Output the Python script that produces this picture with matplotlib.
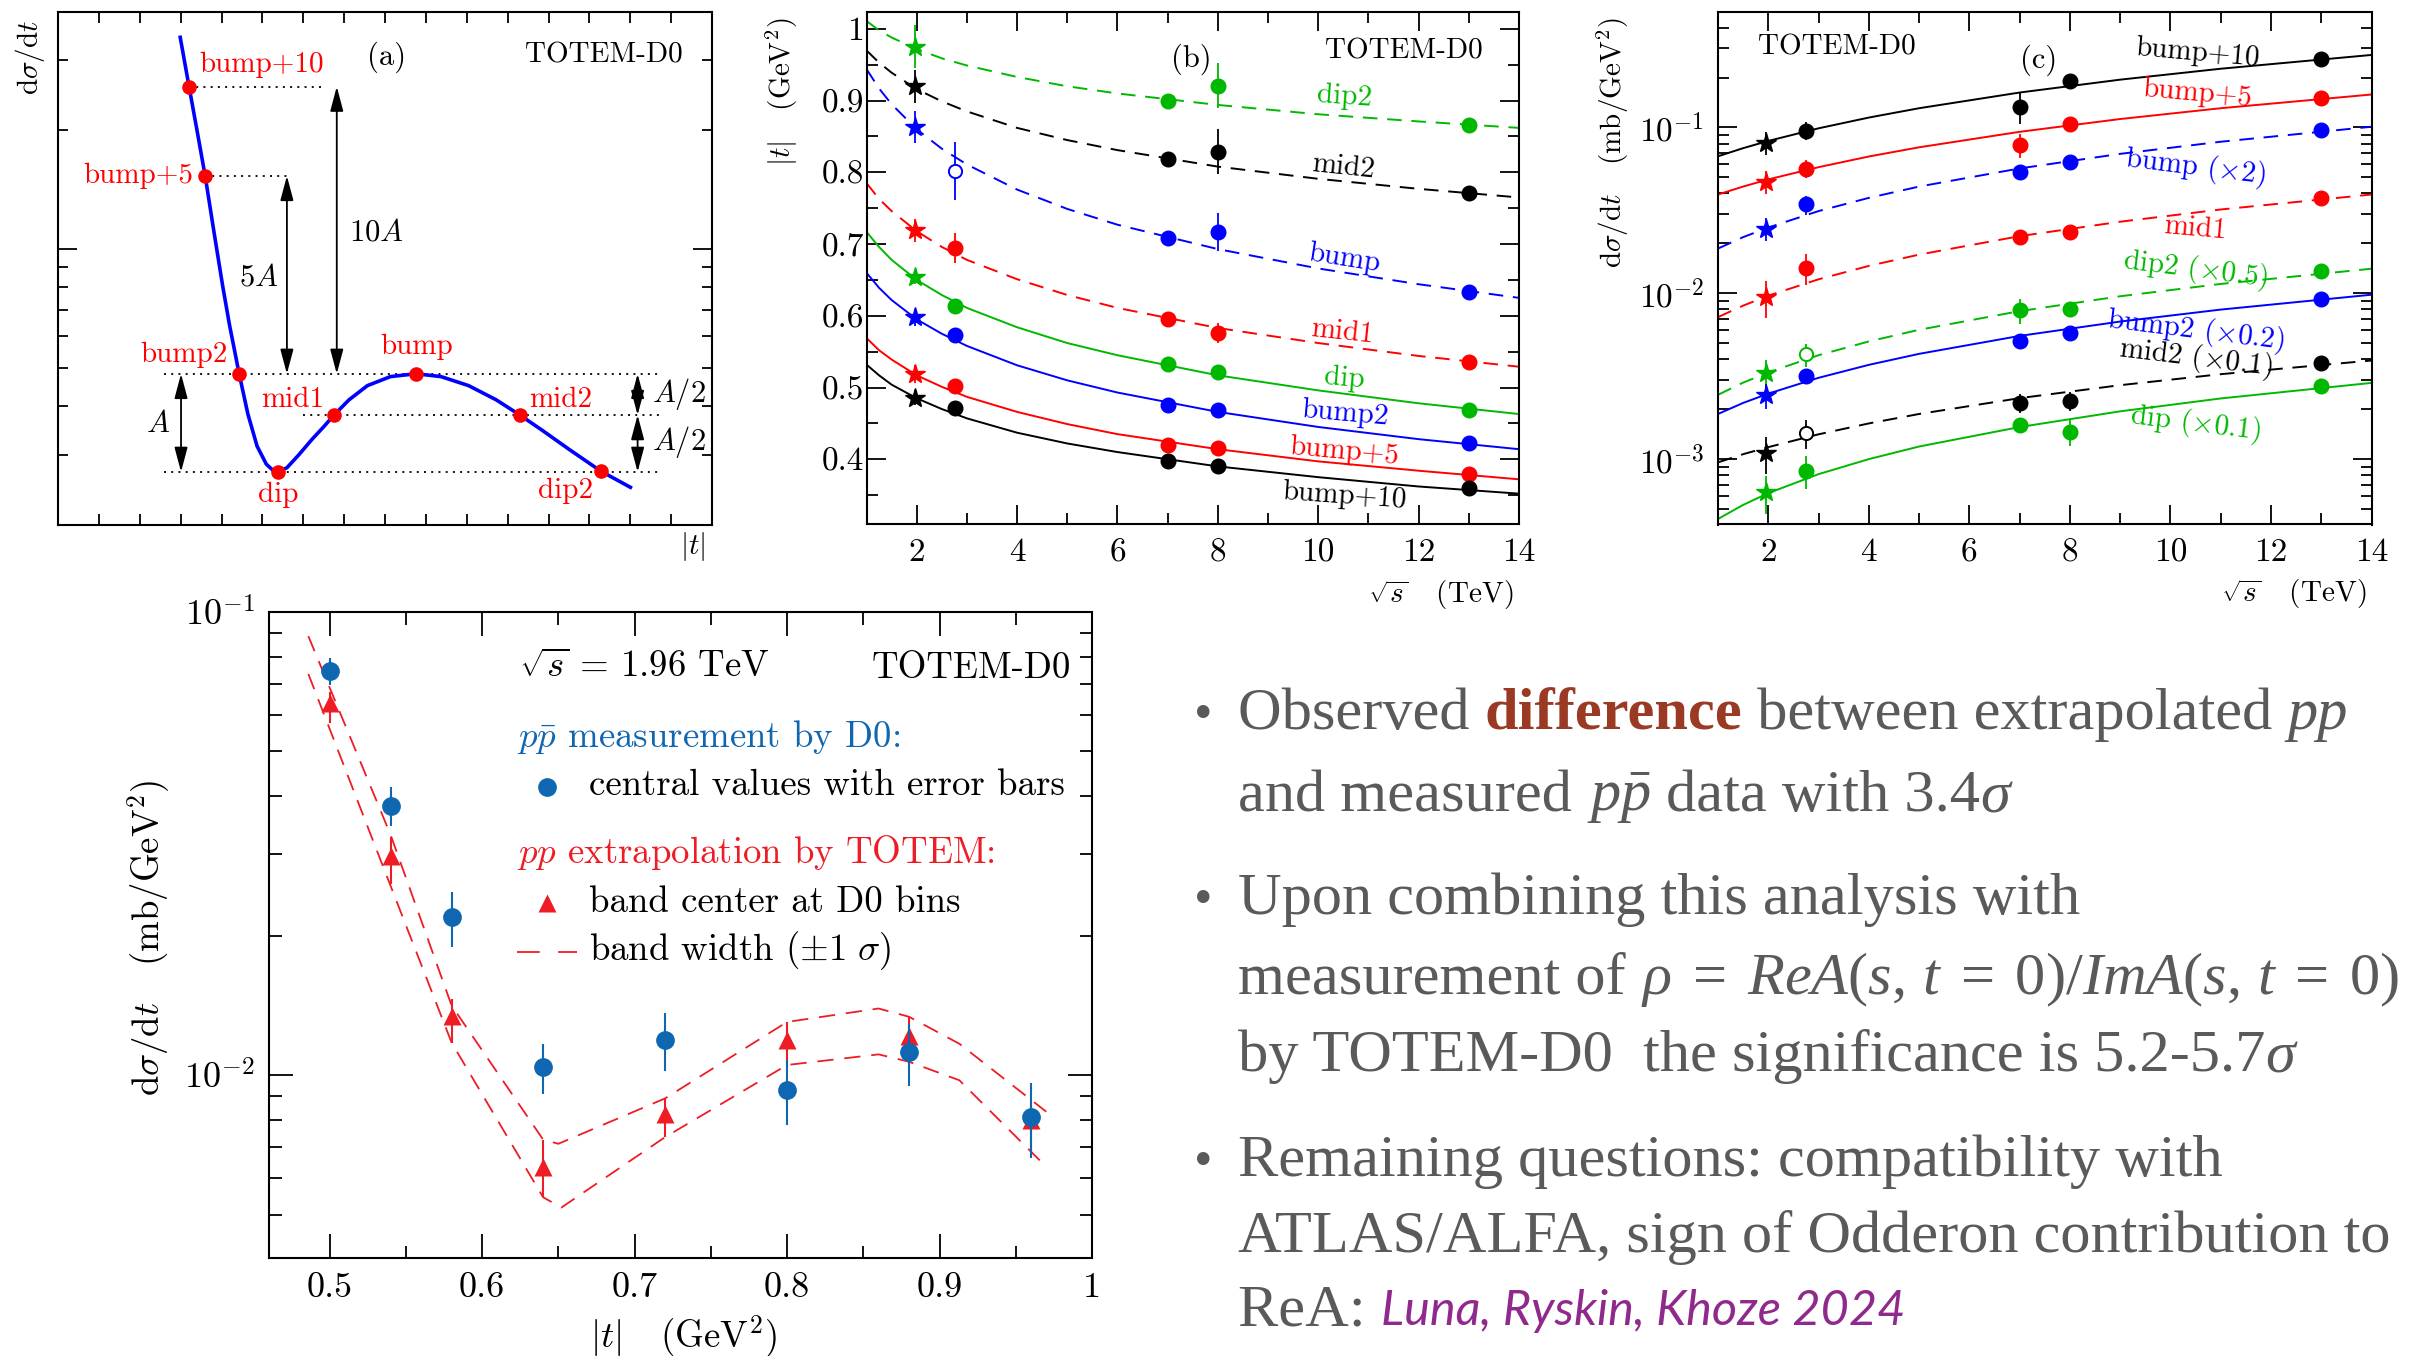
import numpy as np
import matplotlib
matplotlib.use("Agg")
import matplotlib.pyplot as plt
from matplotlib.ticker import FixedLocator, FuncFormatter, NullFormatter, MultipleLocator

W, H = 2410, 1356
plt.rcParams.update({
    "font.family": "cmr10",
    "mathtext.fontset": "cm",
    "mathtext.rm": "Liberation Serif",
    "mathtext.it": "Liberation Serif:italic",
    "mathtext.bf": "Liberation Serif:bold",
    "axes.unicode_minus": False,
    "axes.formatter.use_mathtext": True,
})

GREEN, RED, BLUE, BLACK = "#00b800", "#ff0000", "#0000ff", "#000000"

# ---------------- panel (a): schematic of the characteristic points ----------------
a_curve_t = [2.99, 3.206, 3.408, 3.600, 3.802, 4.027, 4.196, 4.432, 4.646, 4.871, 5.096,
             5.264, 5.388, 5.602, 5.883, 6.220, 6.502, 6.749, 7.120, 7.570, 8.133, 8.763,
             9.370, 10.045, 10.720, 11.305, 11.845, 12.520, 13.285, 14.004]
a_curve_y = [3.434, 2.576, 1.977, 1.530, 1.126, 0.807, 0.641, 0.482, 0.381, 0.316, 0.2846,
             0.2742, 0.2719, 0.2788, 0.2998, 0.3294, 0.3541, 0.3787, 0.4142, 0.4500, 0.4743,
             0.4823, 0.4743, 0.4500, 0.4142, 0.3787, 0.3468, 0.3094, 0.2730, 0.2486]
a_point_names = ["bump+10", "bump+5", "bump2", "dip", "mid1", "bump", "mid2", "dip2"]
a_point_t = [3.206, 3.600, 4.432, 5.388, 6.749, 8.763, 11.305, 13.285]
a_point_y = [2.576, 1.530, 0.482, 0.272, 0.379, 0.482, 0.379, 0.273]

# ---------------- panel (b) and (c): energy dependence ----------------
sqrt_s_pts = [1.96, 2.76, 7.0, 8.0, 13.0]
fit_s_b = [1, 1.25, 1.5, 2, 2.5, 3, 4, 5, 6, 8, 10, 12, 14]
fit_s_c = [1, 1.5, 2, 3, 4, 5, 7, 9, 11, 14]
nan = np.nan

# |t| of the characteristic points (GeV^2)
t_dip2 = [0.975, nan, 0.900, 0.921, 0.866]
t_mid2 = [0.920, nan, 0.818, 0.829, 0.771]
t_bump = [0.863, 0.802, 0.709, 0.717, 0.633]
t_mid1 = [0.719, 0.695, 0.596, 0.576, 0.536]
t_dip = [0.654, 0.614, 0.533, 0.521, 0.469]
t_bump2 = [0.598, 0.573, 0.475, 0.468, 0.423]
t_bump5 = [0.519, 0.502, 0.420, 0.415, 0.380]
t_bump10 = [0.486, 0.472, 0.397, 0.390, 0.360]
te_dip2 = [0.030, 0, 0.008, 0.031, 0.008]
te_mid2 = [0.023, 0, 0.008, 0.031, 0.006]
te_bump = [0.022, 0.041, 0.008, 0.026, 0.008]
te_mid1 = [0.016, 0.021, 0.008, 0.014, 0.008]
te_dip = [0.010, 0.010, 0.006, 0.006, 0.006]
te_bump2 = [0.012, 0.010, 0.006, 0.006, 0.006]
te_bump5 = [0.013, 0.010, 0.006, 0.006, 0.006]
te_bump10 = [0.010, 0.008, 0.006, 0.006, 0.006]

tfit_dip2 = [1.011, 0.998, 0.988, 0.972, 0.959, 0.949, 0.933, 0.920, 0.910, 0.894, 0.881, 0.871, 0.862]
tfit_mid2 = [0.970, 0.953, 0.939, 0.916, 0.899, 0.885, 0.862, 0.845, 0.831, 0.808, 0.791, 0.777, 0.765]
tfit_bump = [0.944, 0.917, 0.895, 0.860, 0.833, 0.811, 0.776, 0.749, 0.727, 0.693, 0.666, 0.644, 0.625]
tfit_mid1 = [0.785, 0.763, 0.746, 0.718, 0.696, 0.678, 0.651, 0.629, 0.611, 0.583, 0.562, 0.544, 0.529]
tfit_dip = [0.717, 0.696, 0.678, 0.650, 0.629, 0.611, 0.584, 0.562, 0.545, 0.517, 0.496, 0.478, 0.463]
tfit_bump2 = [0.660, 0.639, 0.622, 0.595, 0.575, 0.558, 0.531, 0.510, 0.493, 0.466, 0.445, 0.428, 0.414]
tfit_bump5 = [0.569, 0.552, 0.539, 0.517, 0.501, 0.487, 0.466, 0.449, 0.435, 0.414, 0.397, 0.384, 0.372]
tfit_bump10 = [0.532, 0.517, 0.504, 0.485, 0.470, 0.457, 0.437, 0.422, 0.410, 0.390, 0.375, 0.362, 0.352]

# dsigma/dt at the characteristic points (mb/GeV^2), with display scale factors
x_bump10 = [0.0811, 0.0955, 0.1334, 0.1905, 0.2576]
x_bump5 = [0.0470, 0.0565, 0.0783, 0.1049, 0.1497]
x_bump = [0.0245, 0.0343, 0.0535, 0.0621, 0.0964]
x_mid1 = [0.00948, 0.01419, 0.0218, 0.0234, 0.0373]
x_dip2 = [0.00331, 0.00428, 0.00789, 0.00805, 0.01355]
x_bump2 = [0.00242, 0.00316, 0.00512, 0.00577, 0.00927]
x_mid2 = [0.001087, 0.001436, 0.00218, 0.002255, 0.00378]
x_dip = [0.000629, 0.000851, 0.001607, 0.001462, 0.002748]
xe_bump10 = [0.013, 0.012, 0.028, 0.020, 0.014]
xe_bump5 = [0.0075, 0.0068, 0.0125, 0.008, 0.008]
xe_bump = [0.0039, 0.0045, 0.0035, 0.004, 0.005]
xe_mid1 = [0.0024, 0.0030, 0.0013, 0.0014, 0.0020]
xe_dip2 = [0.00066, 0.00069, 0.00134, 0.0008, 0.0007]
xe_bump2 = [0.00041, 0.0003, 0.0003, 0.0003, 0.0004]
xe_mid2 = [0.00028, 0.00028, 0.00029, 0.0003, 0.00015]
xe_dip = [0.00016, 0.00019, 0.00015, 0.00026, 0.0001]

xfit_bump10 = [0.0670, 0.0750, 0.0829, 0.0988, 0.1147, 0.1306, 0.1624, 0.1942, 0.2260, 0.2737]
xfit_bump5 = [0.0394, 0.0440, 0.0486, 0.0576, 0.0668, 0.0759, 0.0941, 0.1124, 0.1306, 0.1580]
xfit_bump = [0.0186, 0.0218, 0.0249, 0.0313, 0.0376, 0.0440, 0.0566, 0.0693, 0.0820, 0.1010]
xfit_mid1 = [0.00718, 0.00842, 0.00966, 0.01214, 0.01462, 0.0171, 0.0221, 0.0270, 0.0320, 0.0394]
xfit_dip2 = [0.00244, 0.00289, 0.00333, 0.00423, 0.00512, 0.00602, 0.00780, 0.00959, 0.01138, 0.01406]
xfit_bump2 = [0.00187, 0.00218, 0.00248, 0.00309, 0.00370, 0.00431, 0.00553, 0.00675, 0.00797, 0.00980]
xfit_mid2 = [0.000955, 0.00107, 0.00118, 0.00141, 0.00164, 0.00187, 0.00233, 0.00279, 0.00325, 0.00393]
xfit_dip = [0.000435, 0.000529, 0.000623, 0.000811, 0.000999, 0.00119, 0.00156, 0.00194, 0.00232, 0.00288]

# ---------------- bottom panel: comparison at 1.96 TeV ----------------
d0_t = [0.50, 0.54, 0.58, 0.64, 0.72, 0.80, 0.88, 0.96]
d0_dsdt = [0.0746, 0.0382, 0.0219, 0.0104, 0.01191, 0.00929, 0.0112, 0.00811]
d0_err = [0.0050, 0.0037, 0.0030, 0.0013, 0.0017, 0.0015, 0.0017, 0.0015]
totem_dsdt = [0.0635, 0.0297, 0.0134, 0.00635, 0.00826, 0.01189, 0.01216, 0.00799]
totem_lo = [0.0575, 0.0259, 0.01175, 0.00546, 0.00736, 0.01043, 0.01069, 0.0068]
totem_hi = [0.0671, 0.0327, 0.01459, 0.00726, 0.00891, 0.01303, 0.01337, 0.0088]
band_up_t = [0.486, 0.54, 0.58, 0.64, 0.65, 0.72, 0.80, 0.86, 0.88, 0.913, 0.97]
band_up = [0.0887, 0.0330, 0.01413, 0.00726, 0.00711, 0.00891, 0.01303, 0.01393, 0.01337, 0.01169, 0.00834]
band_dn_t = [0.486, 0.54, 0.58, 0.64, 0.652, 0.72, 0.80, 0.86, 0.88, 0.913, 0.97]
band_dn = [0.0735, 0.0256, 0.01175, 0.00545, 0.00518, 0.00735, 0.01052, 0.01109, 0.01069, 0.00975, 0.00634]

fig = plt.figure(figsize=(W / 100, H / 100), dpi=100)


def px_axes(l, t, r, b):
    return fig.add_axes([l / W, 1 - b / H, (r - l) / W, (b - t) / H])


def ftext(x, y, s, **kw):
    return fig.text(x / W, 1 - y / H, s, **kw)


def frame(ax, major, minor, labelsize=24, pad=10):
    ax.tick_params(which="both", direction="in", top=True, right=True, width=1.3, colors="k")
    ax.tick_params(which="major", length=major, labelsize=labelsize, pad=pad)
    ax.tick_params(which="minor", length=minor)
    for sp in ax.spines.values():
        sp.set_linewidth(1.5)


plain = FuncFormatter(lambda v, p: "%g" % v)
powten = FuncFormatter(lambda v, p: r"$10^{%d}$" % int(round(np.log10(v))))

# ======== (a) ========
ax = px_axes(58, 12, 712, 525)
ax.set_yscale("log")
ax.set_xlim(0, 16)
ax.set_ylim(10 ** -0.7, 10 ** 0.6)
ax.xaxis.set_major_locator(FixedLocator(list(range(1, 16))))
ax.xaxis.set_major_formatter(NullFormatter())
ax.yaxis.set_major_locator(FixedLocator([1.0]))
ax.yaxis.set_minor_locator(FixedLocator([0.3, 0.4, 0.5, 0.6, 0.7, 0.8, 0.9, 2.0, 3.0]))
ax.yaxis.set_major_formatter(NullFormatter())
ax.yaxis.set_minor_formatter(NullFormatter())
frame(ax, 14, 7)
ax.tick_params(axis="x", which="major", length=8)

dot = dict(color="k", lw=1.3, linestyle=(0, (1.1, 2.9)), zorder=1)
y_b10, y_b5, y_bump, y_mid, y_dip = a_point_y[0], a_point_y[1], a_point_y[5], a_point_y[4], a_point_y[3]
ax.plot([a_point_t[0], 6.56], [y_b10, y_b10], **dot)
ax.plot([a_point_t[1], 5.60], [y_b5, y_b5], **dot)
ax.plot([2.59, 14.71], [y_bump, y_bump], **dot)
ax.plot([6.0, 14.77], [y_mid, y_mid], **dot)
ax.plot([2.59, 14.71], [y_dip, y_dip], **dot)

ax.plot(a_curve_t, a_curve_y, color=BLUE, lw=2.6, zorder=3)
ax.plot(a_point_t, a_point_y, "o", color=RED, ms=10.5, mec="none", zorder=4)

arrow = dict(arrowstyle="<|-|>,head_length=0.75,head_width=0.2", color="k", lw=1.3,
             mutation_scale=20, shrinkA=0, shrinkB=0)
for xa, ya, yb in [(3.01, y_bump, y_dip), (5.60, y_b5, y_bump), (6.82, y_b10, y_bump),
                   (14.18, y_bump, y_mid), (14.18, y_mid, y_dip)]:
    ax.annotate("", xy=(xa, yb), xytext=(xa, ya), arrowprops=arrow, zorder=2)

lab = dict(color=RED, fontsize=21, va="baseline")
ax.text(4.97, 2.80, "bump+10", ha="center", **lab)
ax.text(3.30, 1.47, "bump+5", ha="right", **lab)
ax.text(3.07, 0.516, "bump2", ha="center", **lab)
ax.text(8.77, 0.540, "bump", ha="center", **lab)
ax.text(5.74, 0.397, "mid1", ha="center", **lab)
ax.text(12.29, 0.397, "mid2", ha="center", **lab)
ax.text(5.40, 0.2287, "dip", ha="center", **lab)
ax.text(12.41, 0.2335, "dip2", ha="center", **lab)
ax.text(8.05, 2.92, "(a)", ha="center", va="baseline", fontsize=22)
ax.text(15.28, 2.97, "TOTEM-D0", ha="right", va="baseline", fontsize=21)
ax.text(7.12, 1.047, r"$10A$", ha="left", va="baseline", fontsize=22)
ax.text(4.42, 0.807, r"$5A$", ha="left", va="baseline", fontsize=22)
ax.text(2.45, 0.343, r"$A$", ha="center", va="baseline", fontsize=22)
ax.text(14.54, 0.410, r"$A/2$", ha="left", va="baseline", fontsize=22)
ax.text(14.54, 0.309, r"$A/2$", ha="left", va="baseline", fontsize=22)
ftext(30, 57, r"$\mathrm{d}\sigma/\mathrm{d}t$", rotation=90, ha="center", va="center", fontsize=21)
ftext(693, 546, r"$|t|$", ha="center", va="center", fontsize=21)


def draw_points(ax, vals, errs, color, open_idx=()):
    for i, (s, v, e) in enumerate(zip(sqrt_s_pts, vals, errs)):
        if np.isnan(v):
            continue
        if i == 0:
            kw = dict(marker="*", ms=15, mfc=color, mec=color)
        elif i in open_idx:
            kw = dict(marker="o", ms=9.5, mfc="white", mec=color, mew=1.4)
        else:
            kw = dict(marker="o", ms=10.5, mfc=color, mec=color)
        ax.errorbar([s], [v], yerr=[e], color=color, elinewidth=1.3, capsize=0,
                    linestyle="none", zorder=4, **kw)


DASH = (7.5, 5)

# ======== (b) ========
ax = px_axes(866.5, 11.7, 1519, 524.5)
ax.set_xlim(1, 14)
ax.set_ylim(0.309, 1.024)
ax.xaxis.set_major_locator(MultipleLocator(2))
ax.xaxis.set_minor_locator(MultipleLocator(1))
ax.yaxis.set_major_locator(MultipleLocator(0.1))
ax.yaxis.set_minor_locator(MultipleLocator(0.05))
ax.xaxis.set_major_formatter(plain)
ax.yaxis.set_major_formatter(plain)
frame(ax, 14, 8)
ax.tick_params(axis="y", which="major", pad=2)

b_series = [
    ("dip2", t_dip2, te_dip2, tfit_dip2, GREEN, True, (), (10.53, 0.905), -4),
    ("mid2", t_mid2, te_mid2, tfit_mid2, BLACK, True, (), (10.50, 0.807), -6),
    ("bump", t_bump, te_bump, tfit_bump, BLUE, True, (1,), (10.51, 0.680), -9),
    ("mid1", t_mid1, te_mid1, tfit_mid1, RED, True, (), (10.48, 0.577), -6),
    ("dip", t_dip, te_dip, tfit_dip, GREEN, False, (), (10.51, 0.512), -5),
    ("bump2", t_bump2, te_bump2, tfit_bump2, BLUE, False, (), (10.53, 0.463), -5),
    ("bump+5", t_bump5, te_bump5, tfit_bump5, RED, False, (), (10.51, 0.411), -5),
    ("bump+10", t_bump10, te_bump10, tfit_bump10, BLACK, False, (), (10.53, 0.349), -4),
]
for name, vals, errs, fit, col, dashed, opn, pos, rot in b_series:
    line, = ax.plot(fit_s_b, fit, color=col, lw=1.4, zorder=2)
    if dashed:
        line.set_dashes(DASH)
    draw_points(ax, vals, errs, col, opn)
    ax.text(pos[0], pos[1], name, color=col, fontsize=21, ha="center", va="center",
            rotation=rot, rotation_mode="anchor")
ax.text(7.48, 0.9474, "(b)", ha="center", va="baseline", fontsize=22)
ax.text(13.27, 0.9593, "TOTEM-D0", ha="right", va="baseline", fontsize=21)
ftext(782, 92, r"$|t|$   (GeV$^2$)", rotation=90, ha="center", va="center", fontsize=21)
ftext(1441, 595, r"$\sqrt{s}$   (TeV)", ha="center", va="center", fontsize=21)

# ======== (c) ========
ax = px_axes(1718, 11.7, 2371.5, 524.5)
ax.set_yscale("log")
ax.set_xlim(1, 14)
ax.set_ylim(4.03e-4, 0.499)
ax.xaxis.set_major_locator(MultipleLocator(2))
ax.xaxis.set_minor_locator(MultipleLocator(1))
ax.xaxis.set_major_formatter(plain)
ax.yaxis.set_major_locator(FixedLocator([1e-3, 1e-2, 1e-1]))
ax.yaxis.set_minor_locator(FixedLocator([m * 10.0 ** k for k in (-4, -3, -2, -1) for m in range(2, 10)]))
ax.yaxis.set_major_formatter(powten)
ax.yaxis.set_minor_formatter(NullFormatter())
frame(ax, 14, 8)

c_series = [
    ("bump+10", x_bump10, xe_bump10, xfit_bump10, BLACK, False, (), (10.53, 0.280), -5),
    ("bump+5", x_bump5, xe_bump5, xfit_bump5, RED, False, (), (10.53, 0.160), -5),
    (r"bump ($\times$2)", x_bump, xe_bump, xfit_bump, BLUE, True, (), (10.50, 0.0575), -7),
    ("mid1", x_mid1, xe_mid1, xfit_mid1, RED, True, (), (10.50, 0.0246), -5),
    (r"dip2 ($\times$0.5)", x_dip2, xe_dip2, xfit_dip2, GREEN, True, (1,), (10.50, 0.0139), -7),
    (r"bump2 ($\times$0.2)", x_bump2, xe_bump2, xfit_bump2, BLUE, False, (), (10.50, 0.00600), -7),
    (r"mid2 ($\times$0.1)", x_mid2, xe_mid2, xfit_mid2, BLACK, True, (1,), (10.50, 0.00405), -7),
    (r"dip ($\times$0.1)", x_dip, xe_dip, xfit_dip, GREEN, False, (), (10.50, 0.00163), -7),
]
for name, vals, errs, fit, col, dashed, opn, pos, rot in c_series:
    line, = ax.plot(fit_s_c, fit, color=col, lw=1.4, zorder=2)
    if dashed:
        line.set_dashes(DASH)
    draw_points(ax, vals, errs, col, opn)
    ax.text(pos[0], pos[1], name, color=col, fontsize=21, ha="center", va="center",
            rotation=rot, rotation_mode="anchor")
ax.text(7.37, 0.2296, "(c)", ha="center", va="baseline", fontsize=22)
ax.text(1.787, 0.276, "TOTEM-D0", ha="left", va="baseline", fontsize=21)
ftext(1613, 142, r"$\mathrm{d}\sigma/\mathrm{d}t$   (mb/GeV$^2$)", rotation=90, ha="center",
      va="center", fontsize=21)
ftext(2294, 594, r"$\sqrt{s}$   (TeV)", ha="center", va="center", fontsize=21)

# ======== bottom: D0 vs TOTEM extrapolation ========
D0C, TOC = "#0f67b1", "#ee1c25"
ax = px_axes(269, 612, 1092, 1258)
ax.set_yscale("log")
ax.set_xlim(0.4602, 1.0)
ax.set_ylim(4.03e-3, 0.1)
ax.xaxis.set_major_locator(MultipleLocator(0.1))
ax.xaxis.set_minor_locator(MultipleLocator(0.05))
ax.xaxis.set_major_formatter(plain)
ax.yaxis.set_major_locator(FixedLocator([1e-2, 1e-1]))
ax.yaxis.set_minor_locator(FixedLocator([m * 10.0 ** k for k in (-3, -2) for m in range(2, 10)]))
ax.yaxis.set_major_formatter(powten)
ax.yaxis.set_minor_formatter(NullFormatter())
frame(ax, 17, 9, labelsize=26, pad=10)

for bt, bv in [(band_up_t, band_up), (band_dn_t, band_dn)]:
    ln, = ax.plot(bt, bv, color=TOC, lw=1.3, zorder=2)
    ln.set_dashes((9, 6))
tot_err = [np.subtract(totem_dsdt, totem_lo), np.subtract(totem_hi, totem_dsdt)]
ax.errorbar(d0_t, totem_dsdt, yerr=tot_err, fmt="^", ms=13, color=TOC, mec="none",
            elinewidth=1.5, capsize=0, zorder=3)
ax.errorbar(d0_t, d0_dsdt, yerr=d0_err, fmt="o", ms=13.5, color=D0C, mec="none",
            elinewidth=1.5, capsize=0, zorder=4)

T = ax.transAxes
fs = 26.5
ax.text(0.3038, 0.8998, r"$\sqrt{s}\,=\,1.96$ TeV", transform=T, fontsize=fs, va="baseline")
ax.text(0.974, 0.8978, "TOTEM-D0", transform=T, fontsize=fs, va="baseline", ha="right")
ax.text(0.3018, 0.7906, r"$p\bar{p}$ measurement by D0:", transform=T, fontsize=fs,
        va="baseline", color=D0C)
ax.plot([0.3378], [0.7296], "o", ms=13.5, color=D0C, mec="none", transform=T)
ax.text(0.3886, 0.7167, "central values with error bars", transform=T, fontsize=fs, va="baseline")
ax.text(0.3013, 0.6119, r"$pp$ extrapolation by TOTEM:", transform=T, fontsize=fs,
        va="baseline", color=TOC)
ax.plot([0.3378], [0.5491], "^", ms=13, color=TOC, mec="none", transform=T)
ax.text(0.3886, 0.5361, "band center at D0 bins", transform=T, fontsize=fs, va="baseline")
lg, = ax.plot([0.3013, 0.3743], [0.4741, 0.4741], color=TOC, lw=1.3, transform=T)
lg.set_dashes((12.6, 10.2))
ax.text(0.3886, 0.4613, r"band width $(\pm 1\ \sigma)$", transform=T, fontsize=fs, va="baseline")

ftext(684, 1337, r"$|t|$   (GeV$^2$)", ha="center", va="center", fontsize=26.5)
ftext(149, 938, r"$\mathrm{d}\sigma/\mathrm{d}t$   (mb/GeV$^2$)", rotation=90, ha="center",
      va="center", fontsize=26.5)

# ======== bullet points ========
GRAY, BROWN, PURPLE = "#5a5a5a", "#9b3a24", "#8f2a8c"
body = dict(family="Liberation Serif", size=43.5, color=GRAY, math_fontfamily="custom")
renderer = fig.canvas.get_renderer()


def text_runs(x0, base, runs):
    x = x0
    for s, extra in runs:
        kw = dict(body)
        kw.update(extra)
        t = ftext(x, base, s, ha="left", va="baseline", **kw)
        x += t.get_window_extent(renderer).width


X0, XB = 1238, 1203
for yb in (729, 914, 1176):
    ftext(XB, yb, "\u2022", ha="center", va="baseline", family="Liberation Serif", size=38, color=GRAY)

text_runs(X0, 729, [("Observed ", {}), ("difference", dict(weight="bold", color=BROWN)),
                    (" between extrapolated ", {}), ("pp", dict(style="italic"))])
text_runs(X0, 811, [("and measured ", {}), (r"$p\bar{p}$", {}), (" data with 3.4", {}),
                    (r"$\sigma$", {})])
text_runs(X0, 914, [("Upon combining this analysis with", {})])
text_runs(X0, 994, [("measurement of ", {}),
                    (r"$\rho\;=\;ReA(s,\,t\;=\;0)/ImA(s,\,t\;=\;0)$", {})])
text_runs(X0, 1071, [("by TOTEM-D0  the significance is 5.2-5.7", {}), (r"$\sigma$", {})])
text_runs(X0, 1176, [("Remaining questions: compatibility with", {})])
text_runs(X0, 1252, [("ATLAS/ALFA, sign of Odderon contribution to", {})])
text_runs(X0, 1325, [("ReA: ", {}), ("Luna, Ryskin, Khoze 2024",
                                     dict(family="Lato", style="italic", size=35, color=PURPLE))])

fig.savefig("out.png", dpi=100)
